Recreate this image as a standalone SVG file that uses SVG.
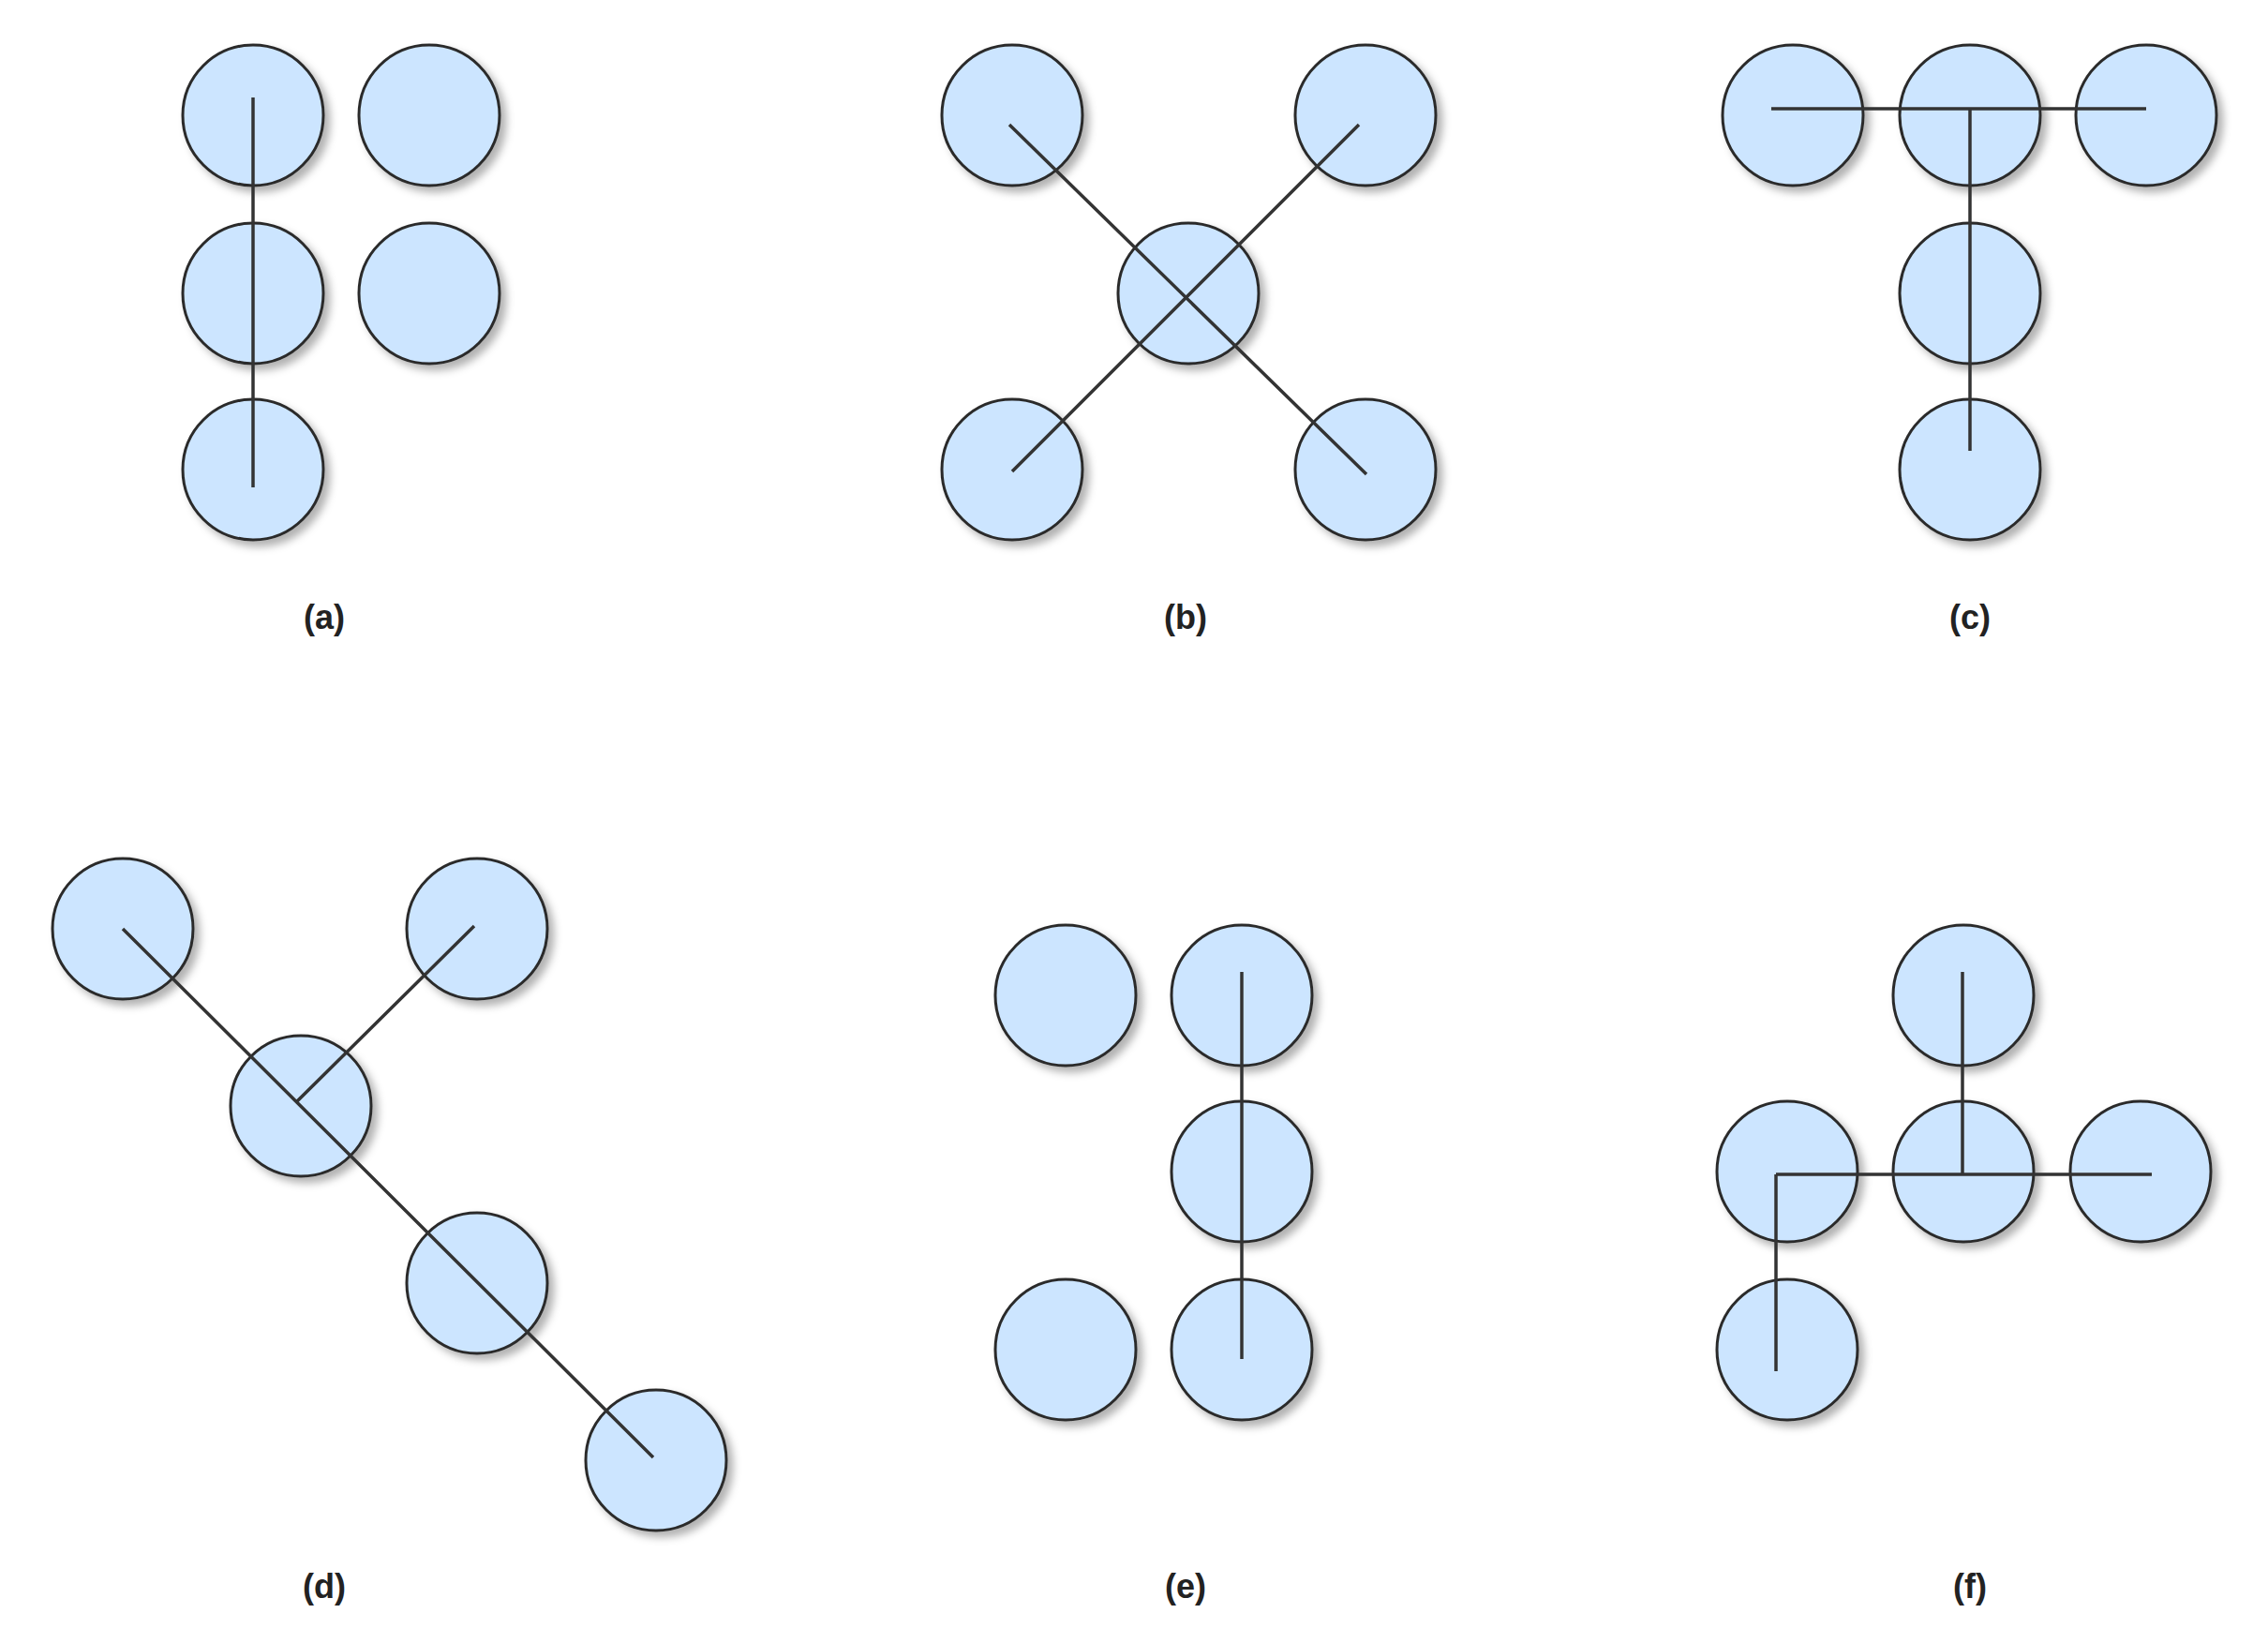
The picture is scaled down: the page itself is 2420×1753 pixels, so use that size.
<svg xmlns="http://www.w3.org/2000/svg" width="2420" height="1753" viewBox="0 0 2420 1753">
<style>
.n{fill:#cce5ff;stroke:#2b2b2b;stroke-width:3;filter:url(#sh)}
.e{stroke:#333;stroke-width:3.5;fill:none}
.l{font-family:"Liberation Sans",Arial,sans-serif;font-weight:bold;font-size:36px;fill:#222;text-anchor:middle}
</style>
<defs><filter id="sh" x="-30%" y="-30%" width="160%" height="160%"><feDropShadow dx="6" dy="6" stdDeviation="4" flood-color="#000" flood-opacity="0.3"/></filter></defs>
<rect width="2420" height="1753" fill="#fff"/>
<g id="a"><circle class="n" cx="270" cy="123" r="75"/><circle class="n" cx="458" cy="123" r="75"/><circle class="n" cx="270" cy="313" r="75"/><circle class="n" cx="458" cy="313" r="75"/><circle class="n" cx="270" cy="501" r="75"/></g>
<g id="b"><circle class="n" cx="1080" cy="123" r="75"/><circle class="n" cx="1457" cy="123" r="75"/><circle class="n" cx="1268" cy="313" r="75"/><circle class="n" cx="1080" cy="501" r="75"/><circle class="n" cx="1457" cy="501" r="75"/></g>
<g id="c"><circle class="n" cx="1913" cy="123" r="75"/><circle class="n" cx="2102" cy="123" r="75"/><circle class="n" cx="2290" cy="123" r="75"/><circle class="n" cx="2102" cy="313" r="75"/><circle class="n" cx="2102" cy="501" r="75"/></g>
<g id="d"><circle class="n" cx="131" cy="991" r="75"/><circle class="n" cx="509" cy="991" r="75"/><circle class="n" cx="321" cy="1180" r="75"/><circle class="n" cx="509" cy="1369" r="75"/><circle class="n" cx="700" cy="1558" r="75"/></g>
<g id="e"><circle class="n" cx="1137" cy="1062" r="75"/><circle class="n" cx="1325" cy="1062" r="75"/><circle class="n" cx="1325" cy="1250" r="75"/><circle class="n" cx="1137" cy="1440" r="75"/><circle class="n" cx="1325" cy="1440" r="75"/></g>
<g id="f"><circle class="n" cx="2095" cy="1062" r="75"/><circle class="n" cx="1907" cy="1250" r="75"/><circle class="n" cx="2095" cy="1250" r="75"/><circle class="n" cx="2284" cy="1250" r="75"/><circle class="n" cx="1907" cy="1440" r="75"/></g>
<g id="connectors">
<path class="e" d="M270 104V520"/>
<path class="e" d="M1077 133L1458 506M1450 133L1080 503"/>
<path class="e" d="M1890 116H2290M2102 116V481"/>
<path class="e" d="M131 991L697 1555M506 988L316 1176"/>
<path class="e" d="M1325 1037V1450"/>
<path class="e" d="M2094 1037V1253M1895 1253H2296M1895 1253V1463"/>
</g>
<g id="labels">
<text class="l" x="346" y="671">(a)</text><text class="l" x="1265" y="671">(b)</text><text class="l" x="2102" y="671">(c)</text>
<text class="l" x="346" y="1705">(d)</text><text class="l" x="1265" y="1705">(e)</text><text class="l" x="2102" y="1705">(f)</text>
</g>
</svg>
